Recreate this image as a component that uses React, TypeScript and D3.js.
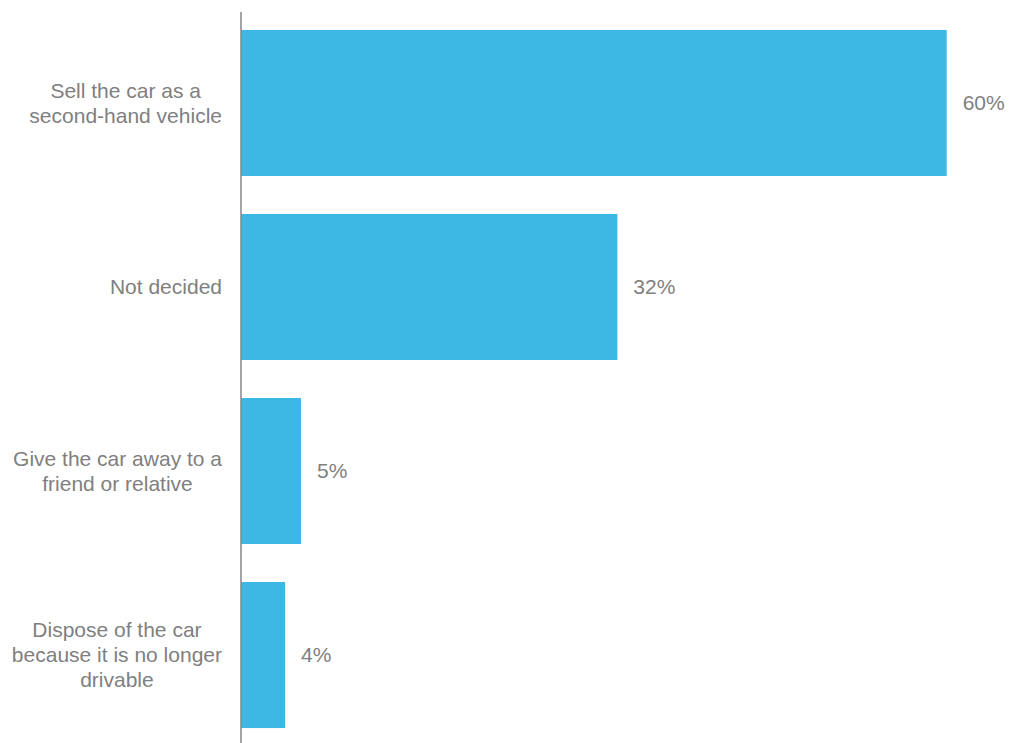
import React from "react";
import * as d3 from "d3";

const categories: string[][] = [
  ["Sell the car as a", "second-hand vehicle"],
  ["Not decided"],
  ["Give the car away to a", "friend or relative"],
  ["Dispose of the car", "because it is no longer", "drivable"],
];
const values: number[] = [60, 32, 5.1, 3.75];
const valueLabels: string[] = ["60%", "32%", "5%", "4%"];

const W = 1010;
const H = 743;
const FONT = "'Liberation Sans', Arial, sans-serif";
const FS = 21;

function measure(text: string): number {
  const c = document.createElement("canvas").getContext("2d");
  if (!c) return text.length * FS * 0.5;
  c.font = `${FS}px ${FONT}`;
  return c.measureText(text).width;
}

export default function App() {
  const x0 = 241;
  const x = d3.scaleLinear().domain([0, 60]).range([x0, x0 + 705.7]);
  const ids = categories.map((_, i) => String(i));
  const y = d3
    .scaleBand<string>()
    .domain(ids)
    .range([11, 747])
    .paddingInner(38 / 184)
    .paddingOuter(0.103);

  const labelRight = 222;
  const lineH = 25;

  return (
    <svg
      width={W}
      height={H}
      style={{ position: "absolute", left: 0, top: 0, background: "#fff" }}
      fontFamily={FONT}
    >
      {values.map((v, i) => {
        const yy = y(ids[i])!;
        const bw = y.bandwidth();
        return (
          <g key={i}>
            <rect x={x(0)} y={yy} width={x(v) - x(0)} height={bw} fill="#3DB7E4" />
            <text
              x={x(v) + 16}
              y={yy + bw / 2}
              dy="0.35em"
              fontSize={FS}
              fill="#808080"
            >
              {valueLabels[i]}
            </text>
          </g>
        );
      })}
      {categories.map((lines, i) => {
        const maxW = d3.max(lines, (l) => measure(l)) || 0;
        const cx = labelRight - maxW / 2;
        const cy = y(ids[i])! + y.bandwidth() / 2;
        const n = lines.length;
        return (
          <text key={i} fontSize={FS} fill="#808080" textAnchor="middle">
            {lines.map((l, j) => (
              <tspan key={j} x={cx} y={cy + (j - (n - 1) / 2) * lineH} dy="0.35em">
                {l}
              </tspan>
            ))}
          </text>
        );
      })}
      <line x1={x0} x2={x0} y1={12} y2={H} stroke="#868686" strokeWidth={1.5} />
    </svg>
  );
}
